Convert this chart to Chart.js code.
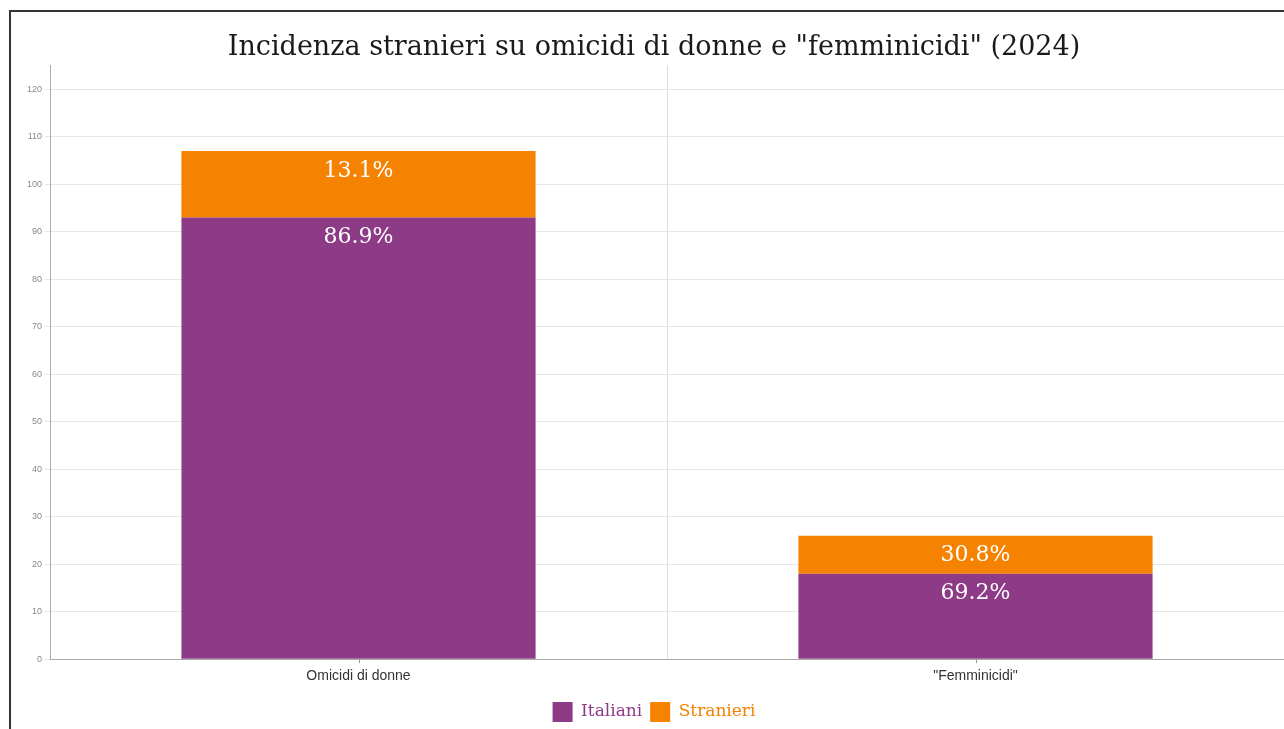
<!DOCTYPE html>
<html>
<head>
<meta charset="utf-8">
<script src="https://cdn.jsdelivr.net/npm/chart.js@4.4.1/dist/chart.umd.min.js"></script>
<style>
  html, body { margin: 0; padding: 0; background: #fff; }
  #wrap { position: relative; width: 1284px; height: 729px; overflow: hidden; }
  #frame { position: absolute; left: 9px; top: 10px; width: 1400px; height: 800px; border: 2px solid #333; pointer-events: none; box-sizing: border-box; }
  canvas { position: absolute; left: 0; top: 0; }
</style>
</head>
<body>
<div id="wrap">
  <canvas id="c" width="1284" height="729"></canvas>
  <div id="frame"></div>
</div>
<script>
const categories = ['Omicidi di donne', '"Femminicidi"'];
const italiani = [93, 18];
const stranieri = [14, 8];
const seriesNames = ['Italiani', 'Stranieri'];
const seriesColors = ['#8e3b87', '#f58200'];
const titleText = 'Incidenza stranieri su omicidi di donne e "femminicidi" (2024)';

const SERIF = '"DejaVu Serif", serif';

const pctLabels = {
  id: 'pctLabels',
  afterDatasetsDraw(chart) {
    const ctx = chart.ctx;
    ctx.save();
    ctx.fillStyle = '#ffffff';
    ctx.font = '22px ' + SERIF;
    ctx.textAlign = 'center';
    ctx.textBaseline = 'middle';
    chart.data.datasets.forEach((ds, di) => {
      const meta = chart.getDatasetMeta(di);
      meta.data.forEach((bar, i) => {
        let total = 0;
        chart.data.datasets.forEach(d => total += d.data[i]);
        const pct = (ds.data[i] / total * 100).toFixed(1) + '%';
        ctx.fillText(pct, bar.x, bar.y + 20);
      });
    });
    ctx.restore();
  }
};

const xTicks = {
  id: 'xTicks',
  afterDraw(chart) {
    const ctx = chart.ctx;
    const xs = chart.scales.x;
    ctx.save();
    ctx.strokeStyle = '#999';
    ctx.lineWidth = 1;
    categories.forEach((c, i) => {
      const px = Math.round(xs.getPixelForValue(i)) + 0.5;
      ctx.beginPath();
      ctx.moveTo(px, xs.top);
      ctx.lineTo(px, xs.top + 4);
      ctx.stroke();
    });
    ctx.restore();
  }
};

new Chart(document.getElementById('c'), {
  type: 'bar',
  data: {
    labels: categories,
    datasets: [
      { label: seriesNames[0], data: italiani, backgroundColor: seriesColors[0] },
      { label: seriesNames[1], data: stranieri, backgroundColor: seriesColors[1] }
    ]
  },
  options: {
    responsive: false,
    animation: false,
    devicePixelRatio: 1,
    categoryPercentage: 1,
    barPercentage: 0.574,
    layout: { padding: { left: 24, right: 0, top: 0, bottom: -3 } },
    plugins: {
      title: {
        display: true,
        text: titleText,
        color: '#1a1a1a',
        font: { family: SERIF, size: 27, weight: 'normal' },
        padding: { top: 32, bottom: 1 }
      },
      legend: {
        position: 'bottom',
        labels: {
          font: { family: SERIF, size: 17 },
          boxWidth: 20,
          boxHeight: 20,
          padding: 8,
          generateLabels(chart) {
            return chart.data.datasets.map((ds, i) => ({
              text: ds.label,
              fillStyle: ds.backgroundColor,
              strokeStyle: ds.backgroundColor,
              lineWidth: 0,
              fontColor: ds.backgroundColor,
              datasetIndex: i,
              hidden: false
            }));
          }
        }
      },
      tooltip: { enabled: false }
    },
    scales: {
      x: {
        stacked: true,
        grid: { offset: true, color: '#dddddd', drawTicks: false },
        border: { color: '#aaaaaa' },
        ticks: { color: '#333', font: { family: '"Liberation Sans", Arial, sans-serif', size: 14 }, padding: 9 }
      },
      y: {
        stacked: true,
        min: 0,
        max: 125,
        grid: { color: '#e6e6e6', tickLength: 5 },
        border: { color: '#aaaaaa' },
        ticks: { stepSize: 10, includeBounds: false, color: '#888', font: { family: '"Liberation Sans", Arial, sans-serif', size: 9 }, padding: 3 }
      }
    }
  },
  plugins: [pctLabels, xTicks]
});
</script>
</body>
</html>
